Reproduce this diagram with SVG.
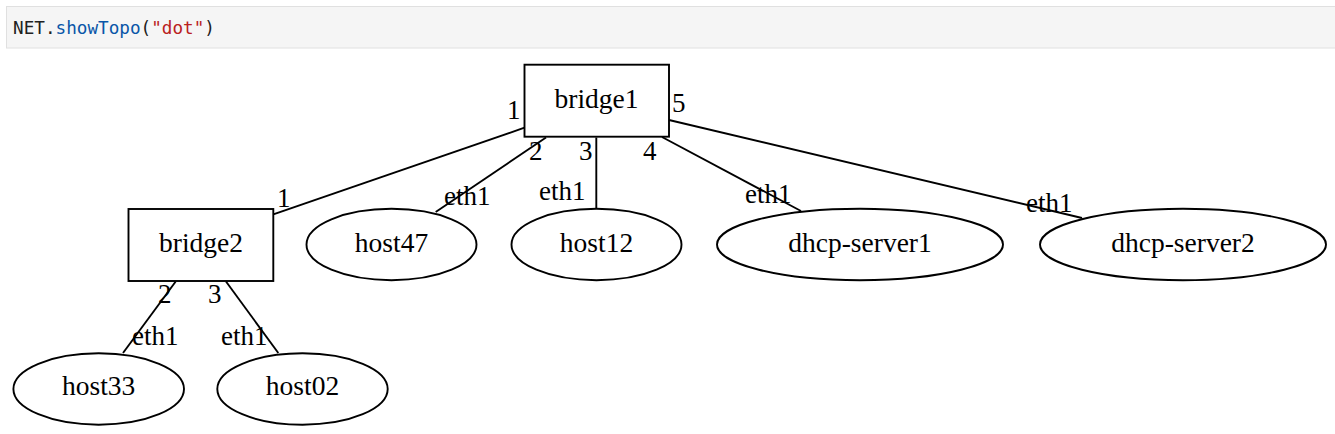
<svg xmlns="http://www.w3.org/2000/svg" width="1335" height="434" viewBox="0 0 1335 434">
<style>
.code{font-family:"DejaVu Sans Mono","Liberation Mono",monospace;font-size:17.5px}
.n{fill:#ffffff;stroke:#000;stroke-width:1.9}
.t{font-family:"Liberation Serif","Times New Roman",serif;font-size:27.5px;fill:#000;text-anchor:middle}
.l{font-family:"Liberation Serif","Times New Roman",serif;font-size:27px;fill:#000}
.e{stroke:#000;stroke-width:1.9;fill:none}
</style>
<rect width="1335" height="434" fill="#ffffff"/>
<g id="code">
<rect x="6.5" y="6.5" width="1335" height="41.5" fill="#f5f5f5" stroke="#e0e0e0" stroke-width="1"/>
<text class="code" x="13" y="33.5" textLength="202" lengthAdjust="spacingAndGlyphs"><tspan fill="#212121">NET.</tspan><tspan fill="#0a56a8">showTopo</tspan><tspan fill="#212121">(</tspan><tspan fill="#ba2121">"dot"</tspan><tspan fill="#212121">)</tspan></text>
</g>
<g id="connectors">
<path class="e" d="M524.5,127.7 L273.3,214.3"/>
<path class="e" d="M546,137.5 L435.7,212"/>
<path class="e" d="M596.3,137.5 L596.3,209"/>
<path class="e" d="M662,137 L801,211"/>
<path class="e" d="M669,120 L1082,218"/>
<path class="e" d="M175.7,281.5 L123,353"/>
<path class="e" d="M226,281.5 L278.3,353"/>
<text class="l" x="507" y="119">1</text>
<text class="l" x="277" y="207">1</text>
<text class="l" x="529" y="160">2</text>
<text class="l" x="444" y="205">eth1</text>
<text class="l" x="579" y="160">3</text>
<text class="l" x="539" y="200">eth1</text>
<text class="l" x="643" y="160">4</text>
<text class="l" x="745" y="203">eth1</text>
<text class="l" x="672" y="112">5</text>
<text class="l" x="1026" y="212">eth1</text>
<text class="l" x="158" y="303">2</text>
<text class="l" x="132" y="345">eth1</text>
<text class="l" x="208" y="303">3</text>
<text class="l" x="221" y="345">eth1</text>
</g>
<g id="bridge1"><rect class="n" x="524.5" y="64.7" width="144.5" height="72"/><text class="t" x="596.5" y="108">bridge1</text></g>
<g id="bridge2"><rect class="n" x="128.5" y="209" width="144.8" height="72"/><text class="t" x="201" y="252">bridge2</text></g>
<g id="host47"><ellipse class="n" cx="391.5" cy="244.5" rx="85" ry="35.7"/><text class="t" x="391.5" y="252">host47</text></g>
<g id="host12"><ellipse class="n" cx="596.5" cy="244.5" rx="85" ry="35.7"/><text class="t" x="596.5" y="252">host12</text></g>
<g id="dhcp-server1"><ellipse class="n" cx="860" cy="244.5" rx="143" ry="35.7"/><text class="t" x="860" y="252">dhcp-server1</text></g>
<g id="dhcp-server2"><ellipse class="n" cx="1183" cy="244.5" rx="143" ry="35.7"/><text class="t" x="1183" y="252">dhcp-server2</text></g>
<g id="host33"><ellipse class="n" cx="98.7" cy="389" rx="85.3" ry="35.7"/><text class="t" x="98.7" y="395">host33</text></g>
<g id="host02"><ellipse class="n" cx="302.5" cy="389" rx="85.2" ry="35.7"/><text class="t" x="302.5" y="395">host02</text></g>
</svg>
